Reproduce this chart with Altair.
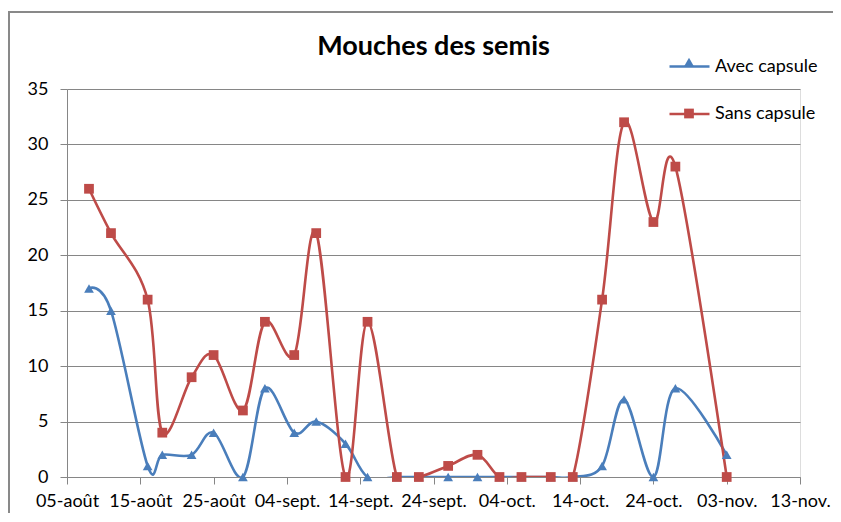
import json
import altair as alt
import pandas as pd

# ---- data ----
dates = ["2014-08-08", "2014-08-11", "2014-08-16", "2014-08-18", "2014-08-22",
         "2014-08-25", "2014-08-29", "2014-09-01", "2014-09-05", "2014-09-08",
         "2014-09-12", "2014-09-15", "2014-09-19", "2014-09-22", "2014-09-26",
         "2014-09-30", "2014-10-03", "2014-10-06", "2014-10-10", "2014-10-13",
         "2014-10-17", "2014-10-20", "2014-10-24", "2014-10-27", "2014-11-03"]
avec_capsule = [17, 15, 1, 2, 2, 4, 0, 8, 4, 5, 3, 0, 0, 0, 0, 0, 0, 0, 0, 0, 1, 7, 0, 8, 2]
sans_capsule = [26, 22, 16, 4, 9, 11, 6, 14, 11, 22, 0, 14, 0, 0, 1, 2, 0, 0, 0, 0, 16, 32, 23, 28, 0]
series_names = ["Avec capsule", "Sans capsule"]
colors = ["#4A7EBB", "#BE4B48"]
shapes = ["triangle-up", "square"]
tick_dates = ["2014-08-05", "2014-08-15", "2014-08-25", "2014-09-04", "2014-09-14",
              "2014-09-24", "2014-10-04", "2014-10-14", "2014-10-24", "2014-11-03",
              "2014-11-13"]
tick_labels = ["05-août", "15-août", "25-août", "04-sept.", "14-sept.", "24-sept.",
               "04-oct.", "14-oct.", "24-oct.", "03-nov.", "13-nov."]
y_ticks = [0, 5, 10, 15, 20, 25, 30, 35]
title_text = "Mouches des semis"

rows = []
for d, a, s in zip(dates, avec_capsule, sans_capsule):
    rows.append({"date": d, "value": a, "series": series_names[0]})
    rows.append({"date": d, "value": s, "series": series_names[1]})
df = pd.DataFrame(rows)
df["serie"] = df["series"]

def ms(d):
    return int(pd.Timestamp(d, tz="UTC").value // 10**6)

tick_ms = [ms(d) for d in tick_dates]
t0 = tick_ms[0]
label_expr = f"{json.dumps(tick_labels, ensure_ascii=False)}[round((datum.value - {t0}) / 864000000)]"

FONT = "Lato"
GRID = "#868686"
W, H = 733, 388

x_enc = alt.X("date:T",
              scale=alt.Scale(type="utc", domain=[tick_ms[0], tick_ms[-1]]),
              axis=alt.Axis(values=tick_ms, labelExpr=label_expr, title=None, grid=False,
                            tickSize=7, tickColor=GRID, domainColor=GRID, labelFont=FONT,
                            labelFontSize=18, labelColor="#000000", labelPadding=8,
                            labelOverlap=False, labelFlush=False))
y_enc = alt.Y("value:Q",
              scale=alt.Scale(domain=[0, 35], nice=False),
              axis=alt.Axis(values=y_ticks, title=None, grid=True, gridColor=GRID,
                            tickSize=7, tickColor=GRID, domainColor=GRID, labelFont=FONT,
                            labelFontSize=18, labelColor="#000000", labelPadding=12))

lines = alt.Chart(df).mark_line(interpolate="cardinal", strokeWidth=2.6, clip=True).encode(
    x=x_enc, y=y_enc,
    stroke=alt.Stroke("series:N", scale=alt.Scale(range=colors),
                      legend=alt.Legend(orient="none", legendX=601, legendY=-44, title=None,
                                        symbolType="stroke", symbolSize=1600,
                                        symbolStrokeWidth=2.6, labelFont=FONT, labelFontSize=18,
                                        labelColor="#000000", labelOffset=4, rowPadding=16.5,
                                        padding=0)),
)

leg_m = dict(orient="none", legendX=613, legendY=-36, title=None, symbolSize=95,
             labelFont=FONT, labelFontSize=18, labelExpr="''", rowPadding=33.5,
             padding=0, symbolStrokeWidth=0)
points = alt.Chart(df).mark_point(filled=True, opacity=1, size=95).encode(
    x=x_enc, y=y_enc,
    color=alt.Color("serie:N", scale=alt.Scale(range=colors), legend=alt.Legend(**leg_m)),
    shape=alt.Shape("serie:N", scale=alt.Scale(range=shapes), legend=alt.Legend(**leg_m)),
)

frame = alt.Chart(pd.DataFrame({"k": [0]})).mark_rect(
    filled=False, stroke="#898989", strokeWidth=2
).encode(x=alt.value(-58), y=alt.value(-77), x2=alt.value(1000), y2=alt.value(1000))

chart = alt.layer(frame, lines, points).properties(
    width=W, height=H,
    title=alt.TitleParams(title_text, font=FONT, fontSize=27, fontWeight="bold",
                          color="#000000", anchor="middle", frame="group",
                          baseline="alphabetic", offset=0, dy=71),
    autosize=alt.AutoSizeParams(type="none"),
    padding={"left": 59, "top": 81, "right": 33, "bottom": 36},
).configure_view(strokeWidth=0).configure(background="white")

chart.save("out.html", embed_options={"renderer": "svg", "actions": False})
